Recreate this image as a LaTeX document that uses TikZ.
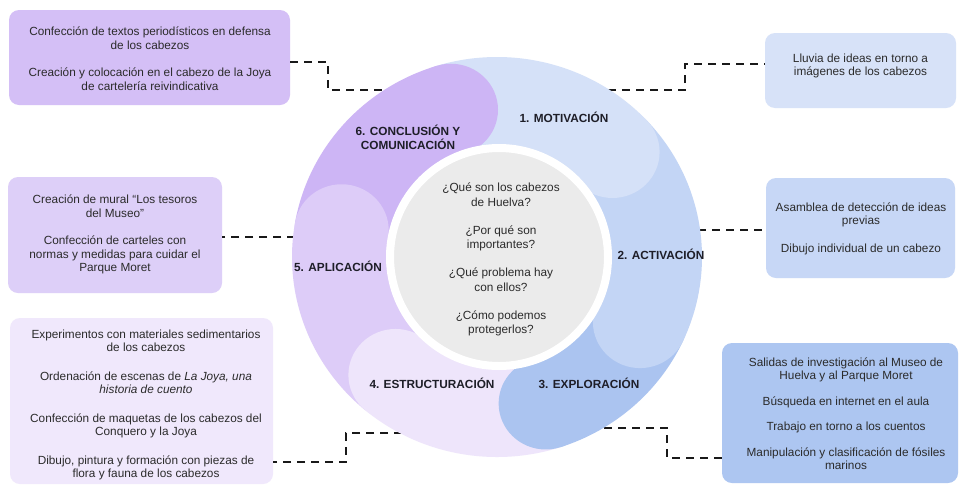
\documentclass[tikz,border=0pt]{standalone}
\usepackage{fontspec}
\setmainfont{Liberation Sans}
\definecolor{s1}{HTML}{D5E1F8}
\definecolor{s2}{HTML}{C3D5F5}
\definecolor{s3}{HTML}{ABC4F0}
\definecolor{s4}{HTML}{EEE5FB}
\definecolor{s5}{HTML}{DDCCF8}
\definecolor{s6}{HTML}{CDB5F5}
\definecolor{b1}{HTML}{D7E2F8}
\definecolor{b2}{HTML}{C7D7F6}
\definecolor{b3}{HTML}{ADC6F1}
\definecolor{b4}{HTML}{F0E8FC}
\definecolor{b5}{HTML}{DDCFF8}
\definecolor{b6}{HTML}{D4BFF6}
\definecolor{cg}{HTML}{EBEBEB}
\definecolor{txt}{HTML}{2B2B2B}
\definecolor{labc}{HTML}{1E1E28}
\newcommand\ringband[3]{\fill[#1] (#2:200) arc[start angle=#2, end angle=#3, radius=200] -- (#3:108) arc[start angle=#3, end angle=#2, radius=108] -- cycle;}
\begin{document}
\begin{tikzpicture}[x=1pt,y=-1pt,
  box/.style={rounded corners=10pt, inner sep=0pt},
  btxt/.style={inner sep=0pt, align=center, text=txt, font=\fontsize{11.8}{13.5}\selectfont},
  lab/.style={font=\bfseries\fontsize{11.8}{14}\selectfont, text=labc, align=center, inner sep=0pt},
  conn/.style={line width=2.2pt, dash pattern=on 8pt off 6pt, draw=black!90}]
\useasboundingbox (0,0) rectangle (968,488);
\fill[white] (0,0) rectangle (968,488);

% boxes
\node[box, fill=b6, minimum width=281pt, minimum height=95pt] (B6) at (149.5,57.5) {};
\node[btxt] (T6) at (150,58.5)
 {Confección de textos periodísticos en defensa\\de los cabezos\\[14pt]Creación y colocación en el cabezo de la Joya\\de cartelería reivindicativa};
\node[box, fill=b1, minimum width=191pt, minimum height=75pt] (B1) at (860.5,70.5) {};
\node[btxt] (T1) at (860.5,66) {Lluvia de ideas en torno a\\imágenes de los cabezos};
\node[box, fill=b2, minimum width=189pt, minimum height=100pt] (B2) at (860.5,228) {};
\node[btxt] (T2) at (861,228.5)
 {Asamblea de detección de ideas\\previas\\[14pt]Dibujo individual de un cabezo};
\node[box, fill=b3, minimum width=236pt, minimum height=140pt] (B3) at (840,413) {};
\node[btxt] (T3) at (846,413.5)
 {Salidas de investigación al Museo de\\Huelva y al Parque Moret\\[12pt]Búsqueda en internet en el aula\\[12pt]Trabajo en torno a los cuentos\\[12pt]Manipulación y clasificación de fósiles\\marinos};
\node[box, fill=b5, minimum width=214pt, minimum height=116pt] (B5) at (115,235) {};
\node[btxt] (T5) at (115,234.5)
 {Creación de mural “Los tesoros\\del Museo”\\[14pt]Confección de carteles con\\normas y medidas para cuidar el\\Parque Moret};
\node[box, fill=b4, minimum width=263pt, minimum height=166pt] (B4) at (141.5,401) {};
\node[btxt] (T4) at (146,405)
 {Experimentos con materiales sedimentarios\\de los cabezos\\[15pt]Ordenación de escenas de \textit{La Joya, una}\\\textit{historia de cuento}\\[15pt]Confección de maquetas de los cabezos del\\Conquero y la Joya\\[15pt]Dibujo, pintura y formación con piezas de\\flora y fauna de los cabezos};

% ring edge points
\coordinate (e6) at (386,90);
\coordinate (e1) at (608,90);
\coordinate (e2) at (698,230);
\coordinate (e3) at (604,428);
\coordinate (e4) at (402,433);
\coordinate (e5) at (295,237);

% connectors
\draw[conn] (B6.east |- 0,62) -- ++(38,0) |- (e6);
\draw[conn] (e1) -- ++(77,0) |- (B1.west |- 0,64);
\draw[conn] (e2) -- (B2.west |- e2);
\draw[conn] (e3) -- ++(63,0) |- (B3.west |- 0,458);
\draw[conn] (e4) -- ++(-56,0) |- (B4.east |- 0,462);
\draw[conn] (e5) -- (B5.east |- e5);

% ring
\begin{scope}[shift={(497,257)}, xscale=1.025, yscale=-1]
\ringband{s1}{107}{43}
\ringband{s2}{43}{-25}
\ringband{s3}{-25}{-72}
\ringband{s4}{-72}{-130}
\ringband{s5}{-130}{-190}
\ringband{s6}{170}{107}
\fill[s1] (43:154) circle[radius=46];
\fill[s2] (-25:154) circle[radius=46];
\fill[s3] (-72:154) circle[radius=46];
\fill[s4] (-130:154) circle[radius=46];
\fill[s5] (170:154) circle[radius=46];
\fill[s6] (107:154) circle[radius=46];
\end{scope}

% centre
\node[circle, fill=cg, draw=white, line width=8pt, minimum size=218pt, inner sep=0pt] (Q) at (499,257) {};
\node[btxt, font=\fontsize{11.8}{14.5}\selectfont] (QT) at (501,259.5)
 {¿Qué son los cabezos\\de Huelva?\\[13.5pt]¿Por qué son\\importantes?\\[13.5pt]¿Qué problema hay\\con ellos?\\[13.5pt]¿Cómo podemos\\protegerlos?};

% labels
\node[lab] (L1) at (564,117) {1. MOTIVACIÓN};
\node[lab] (L2) at (661,254) {2. ACTIVACIÓN};
\node[lab] (L3) at (589,383) {3. EXPLORACIÓN};
\node[lab] (L4) at (432,383) {4. ESTRUCTURACIÓN};
\node[lab] (L5) at (338,266) {5. APLICACIÓN};
\node[lab] (L6) at (408,137) {6. CONCLUSIÓN Y\\COMUNICACIÓN};
\end{tikzpicture}
\end{document}
